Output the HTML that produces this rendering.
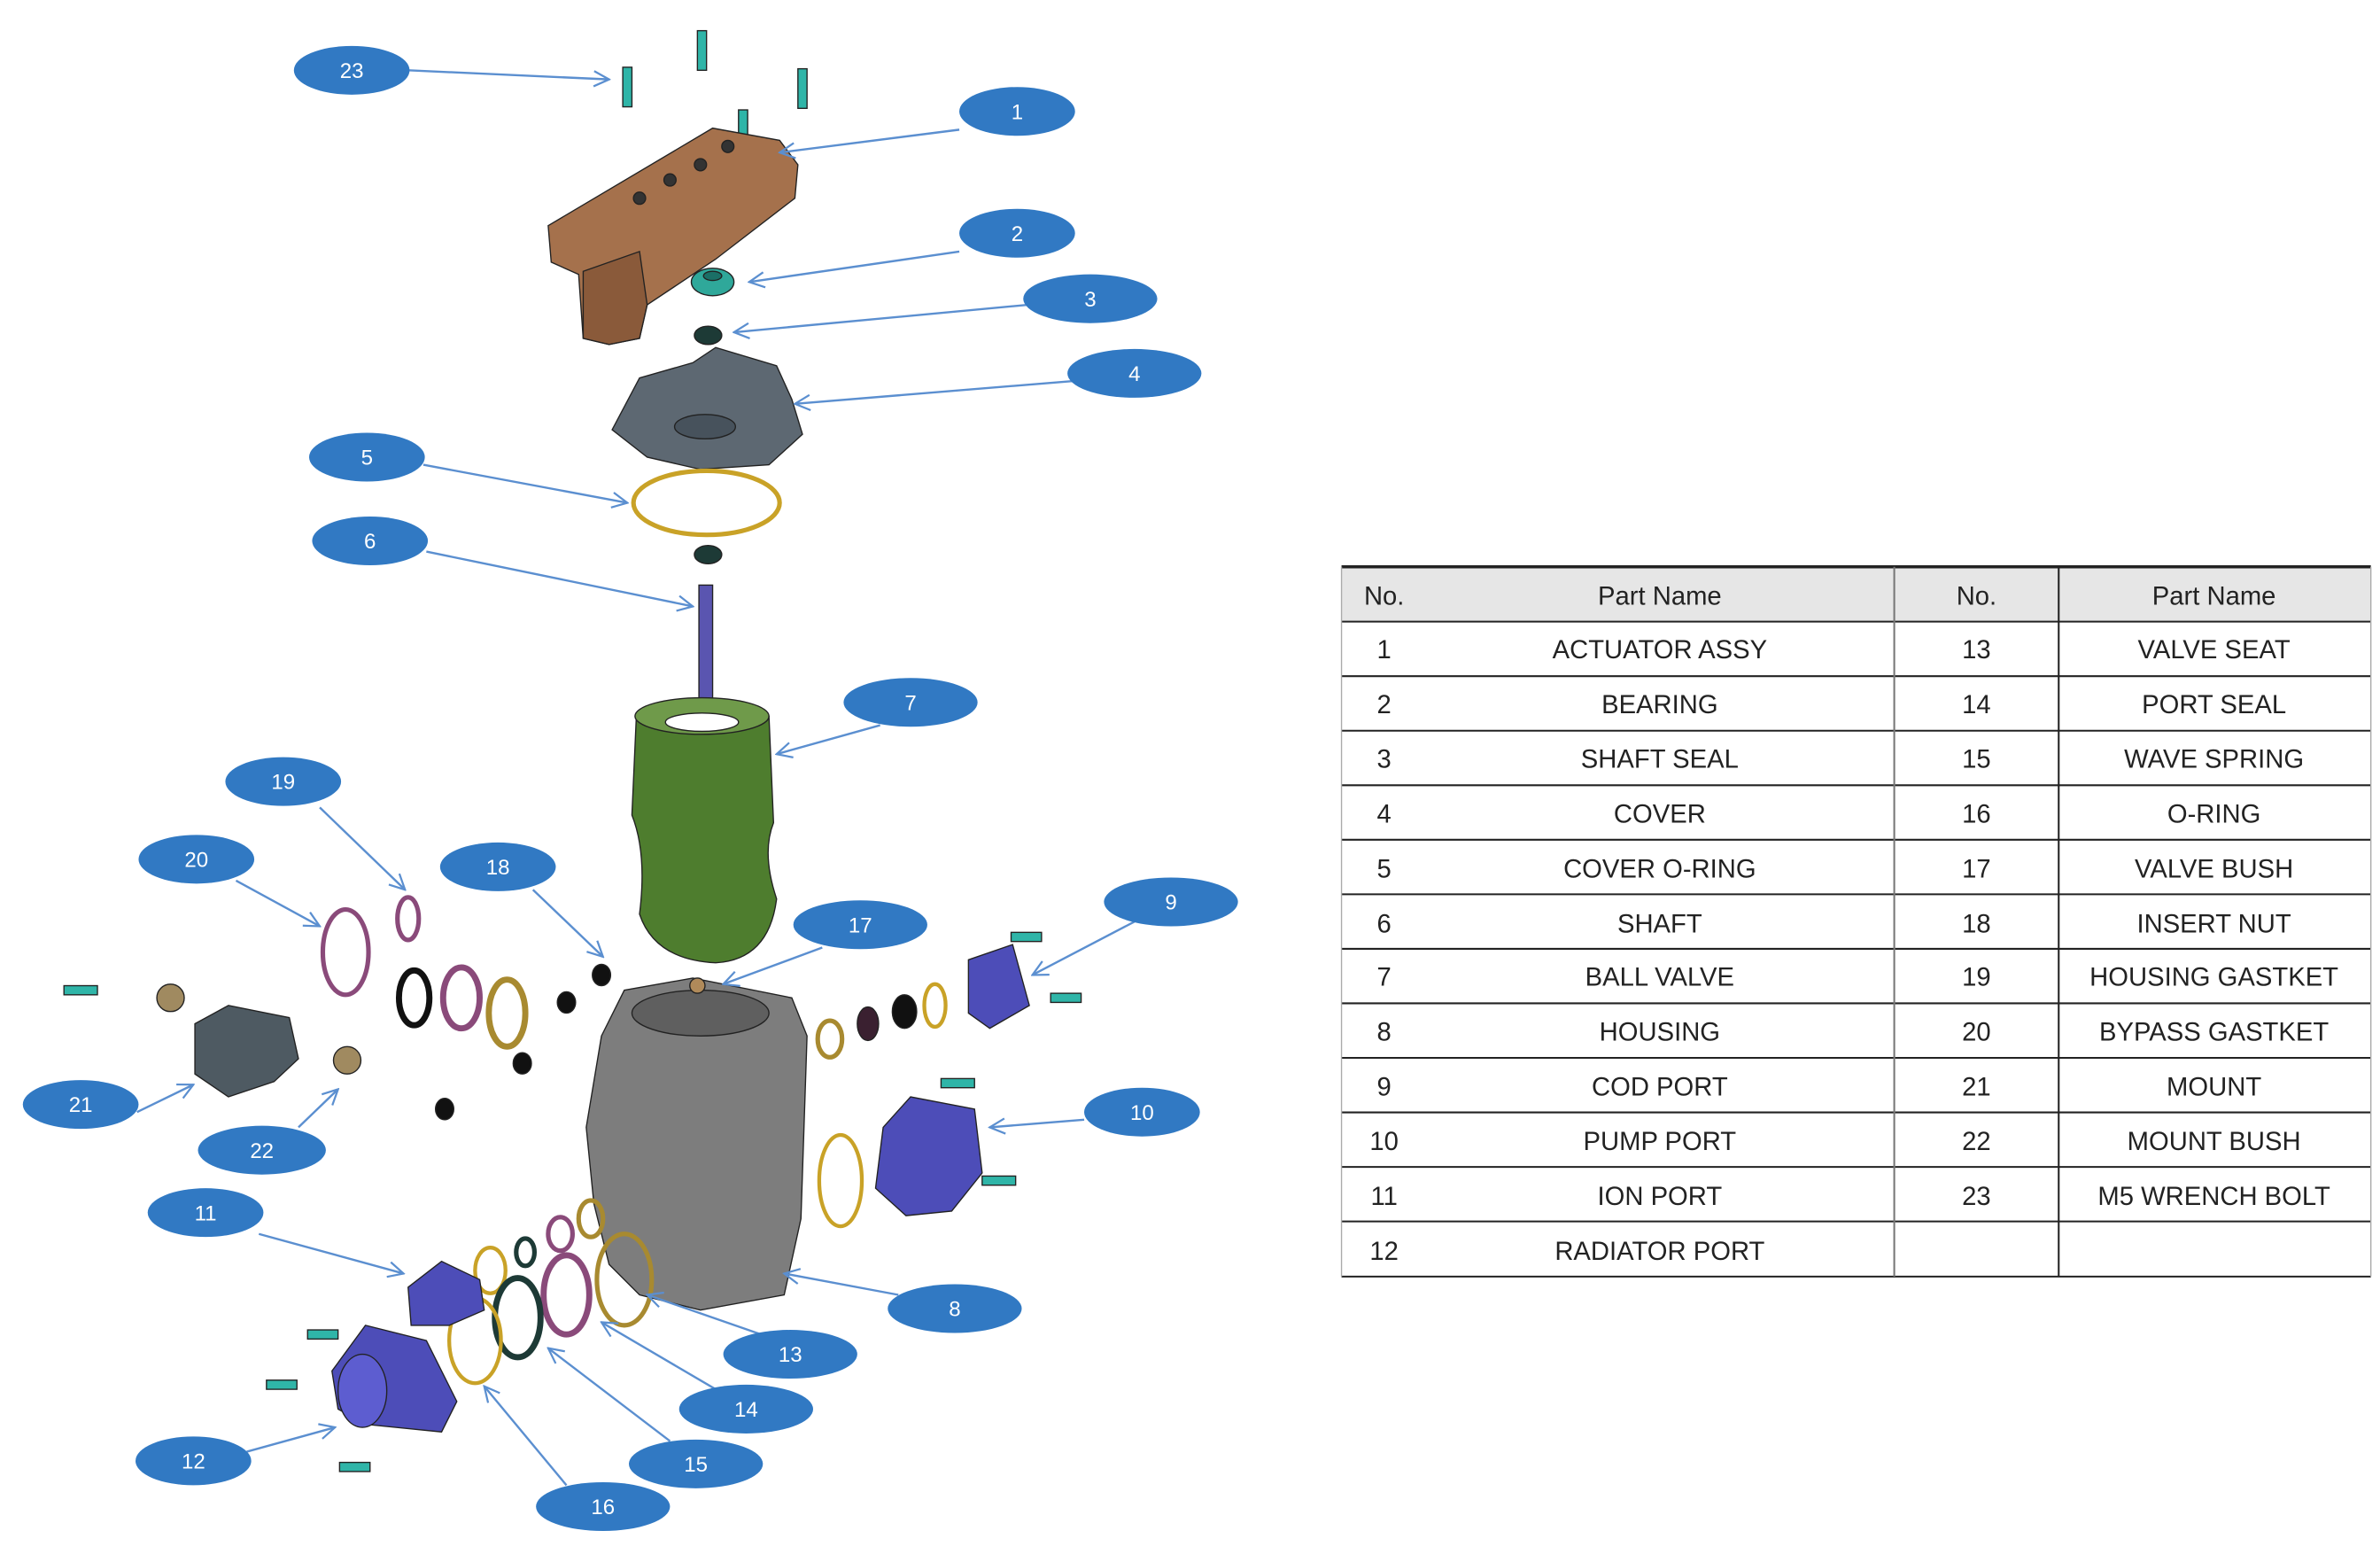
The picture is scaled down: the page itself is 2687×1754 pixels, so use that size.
<!DOCTYPE html>
<html><head><meta charset="utf-8"><style>
html,body{margin:0;padding:0;background:#fff;}
svg{display:block;}
</style></head><body>
<svg width="2687" height="1754" viewBox="0 0 1563 1020" xmlns="http://www.w3.org/2000/svg" font-family="Liberation Sans, sans-serif">
<defs>
<marker id="ah" viewBox="0 0 12 12" refX="11" refY="6" markerWidth="12" markerHeight="12" markerUnits="userSpaceOnUse" orient="auto">
<path d="M1,1 L11,6 L1,11" fill="none" stroke="#5b8fd0" stroke-width="1.3"/></marker>
</defs>
<rect width="1563" height="1020" fill="#fff"/>

<!-- PARTS -->
<g stroke="#222" stroke-width="0.8">
<!-- bolts 23 -->
<g fill="#2fb5a8">
<rect x="409" y="44" width="6" height="26"/><rect x="458" y="20" width="6" height="26"/>
<rect x="524" y="45" width="6" height="26"/><rect x="485" y="72" width="6" height="26"/>
</g>
<!-- actuator -->
<path d="M360,148 L468,84 L512,92 L524,108 L522,130 L470,170 L425,200 L420,222 L400,226 L383,222 L380,180 L362,172 Z" fill="#a5714c"/>
<path d="M383,178 L420,165 L425,200 L420,222 L400,226 L383,222 Z" fill="#8a5a3a"/>
<circle cx="440" cy="118" r="4" fill="#333"/><circle cx="460" cy="108" r="4" fill="#333"/><circle cx="420" cy="130" r="4" fill="#333"/><circle cx="478" cy="96" r="4" fill="#333"/>
<!-- bearing & seal -->
<ellipse cx="468" cy="185" rx="14" ry="9" fill="#2fa89a"/><ellipse cx="468" cy="181" rx="6" ry="3" fill="#1a6f66"/>
<ellipse cx="465" cy="220" rx="9" ry="6" fill="#1d3a36"/>
<!-- cover -->
<path d="M402,282 L420,248 L455,238 L470,228 L510,240 L520,262 L527,285 L505,305 L460,308 L425,300 Z" fill="#5d6872"/>
<ellipse cx="463" cy="280" rx="20" ry="8" fill="#47525c"/>
<!-- cover o-ring -->
<ellipse cx="464" cy="330" rx="48" ry="21" fill="none" stroke="#c9a227" stroke-width="3"/>
<ellipse cx="465" cy="364" rx="9" ry="6" fill="#1d3a36"/>
<!-- shaft -->
<rect x="459" y="384" width="9" height="100" fill="#5a55b0"/>
<!-- ball valve -->
<path d="M418,468 Q460,450 505,470 L508,540 Q500,560 510,590 Q505,630 470,632 Q430,630 420,600 Q425,560 415,535 Z" fill="#4e7d2e"/>
<ellipse cx="461" cy="470" rx="44" ry="12" fill="#6f9a4a"/><ellipse cx="461" cy="474" rx="24" ry="6" fill="#fff"/>
<!-- housing -->
<path d="M395,680 L410,650 L455,642 L520,655 L530,680 L526,800 L515,850 L460,860 L420,850 L400,830 L390,790 L385,740 Z" fill="#7d7d7d"/>
<ellipse cx="460" cy="665" rx="45" ry="15" fill="#5f5f5f"/>
<circle cx="458" cy="647" r="5" fill="#b08a5a"/>
<!-- right side rings & ports -->
<ellipse cx="545" cy="682" rx="8" ry="12" fill="none" stroke="#a88a30" stroke-width="3"/>
<ellipse cx="570" cy="672" rx="7" ry="11" fill="#3a2030"/>
<ellipse cx="594" cy="664" rx="8" ry="11" fill="#111"/>
<ellipse cx="614" cy="660" rx="7" ry="14" fill="none" stroke="#c9a227" stroke-width="2.5"/>
<path d="M636,630 L665,620 L676,660 L650,675 L636,665 Z" fill="#4d4db8"/>
<rect x="664" y="612" width="20" height="6" fill="#2fb5a8"/><rect x="690" y="652" width="20" height="6" fill="#2fb5a8"/>
<ellipse cx="552" cy="775" rx="14" ry="30" fill="none" stroke="#c9a227" stroke-width="2.5"/>
<path d="M580,740 L598,720 L640,728 L645,770 L625,795 L595,798 L575,780 Z" fill="#4d4db8"/>
<rect x="618" y="708" width="22" height="6" fill="#2fb5a8"/><rect x="645" y="772" width="22" height="6" fill="#2fb5a8"/>
<!-- left side rings -->
<ellipse cx="227" cy="625" rx="15" ry="28" fill="none" stroke="#8a4a7a" stroke-width="3"/>
<ellipse cx="268" cy="603" rx="7" ry="14" fill="none" stroke="#8a4a7a" stroke-width="3"/>
<ellipse cx="272" cy="655" rx="10" ry="18" fill="none" stroke="#111" stroke-width="4"/>
<ellipse cx="303" cy="655" rx="12" ry="20" fill="none" stroke="#8a4a7a" stroke-width="4"/>
<ellipse cx="333" cy="665" rx="12" ry="22" fill="none" stroke="#a88a30" stroke-width="4"/>
<ellipse cx="395" cy="640" rx="6" ry="7" fill="#111"/><ellipse cx="372" cy="658" rx="6" ry="7" fill="#111"/>
<ellipse cx="343" cy="698" rx="6" ry="7" fill="#111"/><ellipse cx="292" cy="728" rx="6" ry="7" fill="#111"/>
<!-- mount -->
<path d="M128,672 L150,660 L190,668 L196,695 L180,710 L150,720 L128,705 Z" fill="#4e5a62"/>
<circle cx="112" cy="655" r="9" fill="#a08a60"/><circle cx="228" cy="696" r="9" fill="#a08a60"/>
<rect x="42" y="647" width="22" height="6" fill="#2fb5a8"/>
<!-- lower left -->
<ellipse cx="322" cy="834" rx="10" ry="15" fill="none" stroke="#c9a227" stroke-width="2.5"/>
<ellipse cx="345" cy="822" rx="6" ry="9" fill="none" stroke="#1d3a36" stroke-width="3"/>
<ellipse cx="368" cy="810" rx="8" ry="11" fill="none" stroke="#8a4a7a" stroke-width="3"/>
<ellipse cx="388" cy="800" rx="8" ry="12" fill="none" stroke="#a88a30" stroke-width="3"/>
<ellipse cx="410" cy="840" rx="18" ry="30" fill="none" stroke="#a88a30" stroke-width="3"/>
<ellipse cx="372" cy="850" rx="15" ry="26" fill="none" stroke="#8a4a7a" stroke-width="4"/>
<ellipse cx="340" cy="865" rx="15" ry="26" fill="none" stroke="#1d3a36" stroke-width="4"/>
<ellipse cx="312" cy="880" rx="17" ry="28" fill="none" stroke="#c9a227" stroke-width="2.5"/>
<path d="M268,845 L290,828 L315,840 L318,860 L295,870 L270,870 Z" fill="#4d4db8"/>
<path d="M218,900 L240,870 L280,880 L300,920 L290,940 L240,935 L222,925 Z" fill="#4d4db8"/>
<ellipse cx="238" cy="913" rx="16" ry="24" fill="#5d5dd0"/>
<rect x="202" y="873" width="20" height="6" fill="#2fb5a8"/><rect x="175" y="906" width="20" height="6" fill="#2fb5a8"/><rect x="223" y="960" width="20" height="6" fill="#2fb5a8"/>
</g>

<!-- ARROWS -->
<g stroke="#5b8fd0" stroke-width="1.4" fill="none" marker-end="url(#ah)">
<line x1="268" y1="46" x2="400" y2="52"/>
<line x1="630" y1="85" x2="512" y2="100"/>
<line x1="630" y1="165" x2="492" y2="185"/>
<line x1="675" y1="200" x2="482" y2="218"/>
<line x1="705" y1="250" x2="522" y2="265"/>
<line x1="278" y1="305" x2="412" y2="330"/>
<line x1="280" y1="362" x2="455" y2="398"/>
<line x1="578" y1="476" x2="510" y2="495"/>
<line x1="210" y1="530" x2="266" y2="584"/>
<line x1="155" y1="578" x2="210" y2="608"/>
<line x1="350" y1="584" x2="396" y2="628"/>
<line x1="540" y1="622" x2="475" y2="646"/>
<line x1="745" y1="605" x2="678" y2="640"/>
<line x1="90" y1="730" x2="127" y2="712"/>
<line x1="196" y1="740" x2="222" y2="715"/>
<line x1="712" y1="735" x2="650" y2="740"/>
<line x1="170" y1="810" x2="265" y2="836"/>
<line x1="590" y1="850" x2="515" y2="836"/>
<line x1="500" y1="876" x2="425" y2="850"/>
<line x1="470" y1="912" x2="395" y2="868"/>
<line x1="440" y1="946" x2="360" y2="885"/>
<line x1="162" y1="953" x2="220" y2="937"/>
<line x1="372" y1="975" x2="318" y2="910"/>
</g>

<!-- CALLOUTS -->
<g fill="#3179c3">
<ellipse cx="231" cy="46" rx="38" ry="16"/><ellipse cx="668" cy="73" rx="38" ry="16"/>
<ellipse cx="668" cy="153" rx="38" ry="16"/><ellipse cx="716" cy="196" rx="44" ry="16"/>
<ellipse cx="745" cy="245" rx="44" ry="16"/><ellipse cx="241" cy="300" rx="38" ry="16"/>
<ellipse cx="243" cy="355" rx="38" ry="16"/><ellipse cx="598" cy="461" rx="44" ry="16"/>
<ellipse cx="186" cy="513" rx="38" ry="16"/><ellipse cx="129" cy="564" rx="38" ry="16"/>
<ellipse cx="327" cy="569" rx="38" ry="16"/><ellipse cx="565" cy="607" rx="44" ry="16"/>
<ellipse cx="769" cy="592" rx="44" ry="16"/><ellipse cx="53" cy="725" rx="38" ry="16"/>
<ellipse cx="172" cy="755" rx="42" ry="16"/><ellipse cx="750" cy="730" rx="38" ry="16"/>
<ellipse cx="135" cy="796" rx="38" ry="16"/><ellipse cx="627" cy="859" rx="44" ry="16"/>
<ellipse cx="519" cy="889" rx="44" ry="16"/><ellipse cx="490" cy="925" rx="44" ry="16"/>
<ellipse cx="457" cy="961" rx="44" ry="16"/><ellipse cx="127" cy="959" rx="38" ry="16"/>
<ellipse cx="396" cy="989" rx="44" ry="16"/>
</g>
<g fill="#fff" font-size="14" text-anchor="middle">
<text x="231" y="51">23</text><text x="668" y="78">1</text><text x="668" y="158">2</text><text x="716" y="201">3</text>
<text x="745" y="250">4</text><text x="241" y="305">5</text><text x="243" y="360">6</text><text x="598" y="466">7</text>
<text x="186" y="518">19</text><text x="129" y="569">20</text><text x="327" y="574">18</text><text x="565" y="612">17</text>
<text x="769" y="597">9</text><text x="53" y="730">21</text><text x="172" y="760">22</text><text x="750" y="735">10</text>
<text x="135" y="801">11</text><text x="627" y="864">8</text><text x="519" y="894">13</text><text x="490" y="930">14</text>
<text x="457" y="966">15</text><text x="127" y="964">12</text><text x="396" y="994">16</text>
</g>

<!-- TABLE -->
<rect x="881" y="372" width="676" height="36" fill="#e6e6e6"/>
<g stroke="#222" stroke-width="1.2">
<line x1="881" y1="372" x2="1557" y2="372" stroke-width="2"/>
<line x1="881" y1="408" x2="1557" y2="408"/>
<line x1="881" y1="443.8" x2="1557" y2="443.8"/><line x1="881" y1="479.6" x2="1557" y2="479.6"/>
<line x1="881" y1="515.4" x2="1557" y2="515.4"/><line x1="881" y1="551.2" x2="1557" y2="551.2"/>
<line x1="881" y1="587" x2="1557" y2="587"/><line x1="881" y1="622.8" x2="1557" y2="622.8"/>
<line x1="881" y1="658.6" x2="1557" y2="658.6"/><line x1="881" y1="694.4" x2="1557" y2="694.4"/>
<line x1="881" y1="730.2" x2="1557" y2="730.2"/><line x1="881" y1="766" x2="1557" y2="766"/>
<line x1="881" y1="801.8" x2="1557" y2="801.8"/><line x1="881" y1="838" x2="1557" y2="838"/>
<line x1="1244" y1="372" x2="1244" y2="838" stroke="#777"/>
<line x1="1352" y1="372" x2="1352" y2="838"/>
<line x1="881" y1="372" x2="881" y2="838" stroke="#aaa" stroke-width="0.8"/>
<line x1="1557" y1="372" x2="1557" y2="838" stroke="#aaa" stroke-width="0.8"/>
</g>
<g font-size="17" fill="#222" text-anchor="middle">
<text x="909" y="397">No.</text><text x="1090" y="397">Part Name</text><text x="1298" y="397">No.</text><text x="1454" y="397">Part Name</text>
<text x="909" y="432">1</text><text x="1090" y="432">ACTUATOR ASSY</text><text x="1298" y="432">13</text><text x="1454" y="432">VALVE SEAT</text>
<text x="909" y="468">2</text><text x="1090" y="468">BEARING</text><text x="1298" y="468">14</text><text x="1454" y="468">PORT SEAL</text>
<text x="909" y="504">3</text><text x="1090" y="504">SHAFT SEAL</text><text x="1298" y="504">15</text><text x="1454" y="504">WAVE SPRING</text>
<text x="909" y="540">4</text><text x="1090" y="540">COVER</text><text x="1298" y="540">16</text><text x="1454" y="540">O-RING</text>
<text x="909" y="576">5</text><text x="1090" y="576">COVER O-RING</text><text x="1298" y="576">17</text><text x="1454" y="576">VALVE BUSH</text>
<text x="909" y="612">6</text><text x="1090" y="612">SHAFT</text><text x="1298" y="612">18</text><text x="1454" y="612">INSERT NUT</text>
<text x="909" y="647">7</text><text x="1090" y="647">BALL VALVE</text><text x="1298" y="647">19</text><text x="1454" y="647">HOUSING GASTKET</text>
<text x="909" y="683">8</text><text x="1090" y="683">HOUSING</text><text x="1298" y="683">20</text><text x="1454" y="683">BYPASS GASTKET</text>
<text x="909" y="719">9</text><text x="1090" y="719">COD PORT</text><text x="1298" y="719">21</text><text x="1454" y="719">MOUNT</text>
<text x="909" y="755">10</text><text x="1090" y="755">PUMP PORT</text><text x="1298" y="755">22</text><text x="1454" y="755">MOUNT BUSH</text>
<text x="909" y="791">11</text><text x="1090" y="791">ION PORT</text><text x="1298" y="791">23</text><text x="1454" y="791">M5 WRENCH BOLT</text>
<text x="909" y="827">12</text><text x="1090" y="827">RADIATOR PORT</text>
</g>
</svg>
</body></html>
